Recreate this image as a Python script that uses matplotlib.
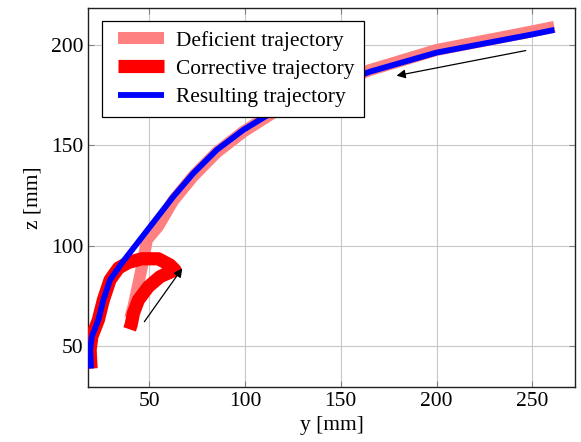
import matplotlib
matplotlib.use("Agg")
import matplotlib.pyplot as plt
from matplotlib.legend_handler import HandlerLine2D
from matplotlib.lines import Line2D

plt.rcParams['font.family'] = ['Liberation Serif', 'DejaVu Serif']

# Deficient trajectory (y [mm], z [mm])
def_y = [261.5, 248.6, 200.0, 165.2, 140.0, 114.8, 99.1, 85.3, 73.1, 62.6, 54.6, 48.8, 47.0, 44.4, 41.8, 40.1]
def_z = [209.0, 206.5, 197.5, 187.5, 178.0, 166.3, 156.8, 146.6, 134.8, 122.6, 109.6, 103.0, 93.1, 81.4, 69.8, 64.2]

# Corrective trajectory
cor_y = [19.7, 19.2, 20.1, 23.5, 26.1, 29.6, 34.0, 39.2, 46.2, 54.8, 60.9, 63.5, 55.7, 49.6, 44.4, 41.8, 40.6, 39.8]
cor_z = [39.0, 48.3, 54.9, 63.2, 73.1, 83.1, 89.0, 91.8, 93.6, 93.6, 90.5, 88.0, 84.7, 79.7, 73.1, 66.5, 60.7, 58.5]

# Resulting trajectory
res_y = [261.5, 248.6, 200.0, 165.2, 140.0, 114.8, 99.1, 85.3, 73.1, 62.6, 50.5, 44.4, 35.7, 29.6, 26.1, 23.5, 20.1, 19.2, 19.7]
res_z = [207.5, 205.0, 196.2, 186.7, 177.8, 166.8, 157.7, 147.8, 136.2, 124.5, 109.6, 102.1, 91.4, 83.1, 73.1, 63.2, 54.9, 48.3, 39.0]

# Arrows (start -> end)
arrow1 = ((246.5, 197.2), (179.1, 184.7))
arrow2 = ((47.5, 62.3), (67.3, 88.9))


class InsetHandler(HandlerLine2D):
    """Draw the legend line with a small left inset (extra left padding)."""
    def create_artists(self, legend, orig_handle, xdescent, ydescent, width, height,
                       fontsize, trans):
        arts = super().create_artists(legend, orig_handle, xdescent, ydescent, width,
                                      height, fontsize, trans)
        inset = 0.27 * fontsize
        for a in arts:
            if isinstance(a, Line2D):
                x = [float(v) for v in a.get_xdata()]
                if len(x) >= 2:
                    x[0] = x[0] + inset
                    a.set_xdata(x)
        return arts


fig = plt.figure(figsize=(5.81, 4.42), dpi=100)
ax = fig.add_axes([0.1515, 0.1244, 0.839, 0.8576])

ax.plot(def_y, def_z, color='#ff8080', lw=8.6, solid_capstyle='butt', solid_joinstyle='round',
        label='Deficient trajectory', zorder=2)
ax.plot(cor_y, cor_z, color='#ff0000', lw=9.5, solid_capstyle='butt', solid_joinstyle='round',
        label='Corrective trajectory', zorder=3)
ax.plot(res_y, res_z, color='#0000ff', lw=4.2, solid_capstyle='butt', solid_joinstyle='round',
        label='Resulting trajectory', zorder=4)

for (s, e) in (arrow1, arrow2):
    ax.annotate('', xy=e, xytext=s,
                arrowprops=dict(arrowstyle='-|>', color='black', lw=0.9,
                                mutation_scale=13, shrinkA=0, shrinkB=0),
                zorder=5)

ax.set_xlim(18.1, 272.5)
ax.set_ylim(29.8, 218.4)
ax.set_xticks([50, 100, 150, 200, 250])
ax.set_yticks([50, 100, 150, 200])
ax.grid(True, color='#c8c8c8', lw=0.8)
ax.set_axisbelow(True)
ax.tick_params(direction='in', top=True, right=True, length=4, width=0.8,
               color='#808080', labelsize=15.5)
for sp in ax.spines.values():
    sp.set_color('#202020')
    sp.set_linewidth(1.0)

ax.set_xlabel('y [mm]', fontsize=15.5, labelpad=4)
ax.set_ylabel('z [mm]', fontsize=15.5, labelpad=6)

leg = ax.legend(loc='upper left', bbox_to_anchor=(0.029, 0.965), fontsize=15.4,
                frameon=True, fancybox=False, edgecolor='black', framealpha=1,
                handlelength=2.45, handletextpad=0.55, borderpad=0.45, labelspacing=0.38,
                borderaxespad=0, handler_map={Line2D: InsetHandler()})
leg.get_frame().set_linewidth(0.9)

fig.savefig('out.png', dpi=100)
